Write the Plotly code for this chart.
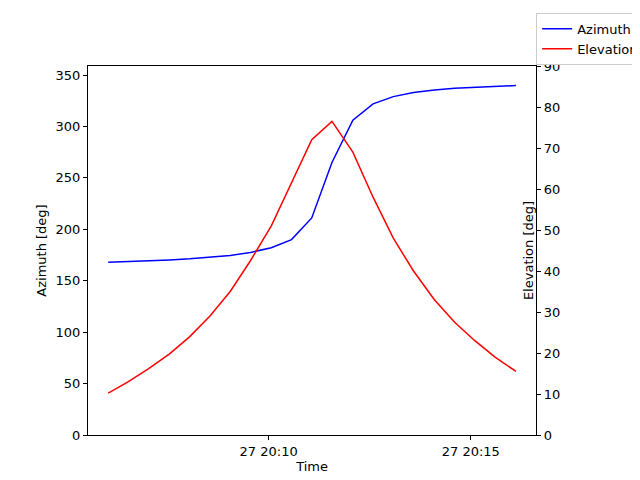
import plotly.graph_objects as go

times = ["2023-05-27 20:06:02", "2023-05-27 20:06:32", "2023-05-27 20:07:02", "2023-05-27 20:07:33",
         "2023-05-27 20:08:03", "2023-05-27 20:08:33", "2023-05-27 20:09:03", "2023-05-27 20:09:33",
         "2023-05-27 20:10:04", "2023-05-27 20:10:34", "2023-05-27 20:11:04", "2023-05-27 20:11:34",
         "2023-05-27 20:12:05", "2023-05-27 20:12:35", "2023-05-27 20:13:05", "2023-05-27 20:13:35",
         "2023-05-27 20:14:06", "2023-05-27 20:14:36", "2023-05-27 20:15:06", "2023-05-27 20:15:36",
         "2023-05-27 20:16:07"]
azimuth = [168, 168.5, 169.3, 170.2, 171.3, 172.7, 174.6, 177.5, 182, 190, 211,
           265, 306, 322, 329, 333, 335.5, 337, 338, 339, 339.7]
elevation = [10.2, 13, 16.2, 19.8, 24, 29, 35, 42.5, 51, 61.5, 72,
             76.5, 69, 58, 48, 40, 33, 27.5, 23, 19, 15.5]
xticks = ["2023-05-27 20:10:00", "2023-05-27 20:15:00"]
xticklabels = ["27 20:10", "27 20:15"]

fig = go.Figure()
fig.add_trace(go.Scatter(x=times, y=azimuth, name="Azimuth", mode="lines",
                         line=dict(color="blue", width=1.5)))
fig.add_trace(go.Scatter(x=times, y=elevation, name="Elevation", mode="lines", yaxis="y2",
                         line=dict(color="red", width=1.5)))

axis_style = dict(showgrid=False, zeroline=False, showline=True, linecolor="black", linewidth=1,
                  ticks="outside", ticklen=4, tickcolor="black", tickfont=dict(size=13),
                  automargin=False)
fig.update_layout(
    width=640, height=480, plot_bgcolor="white", paper_bgcolor="white",
    font=dict(family="DejaVu Sans", size=13, color="black"),
    margin=dict(l=80, r=64, t=58, b=53),
    xaxis=dict(axis_style, title=dict(text="Time", standoff=4, font=dict(size=13)), mirror=True,
               range=["2023-05-27 20:05:32", "2023-05-27 20:16:37"],
               tickvals=xticks, ticktext=xticklabels),
    yaxis=dict(axis_style, title=dict(text="Azimuth [deg]", standoff=6, font=dict(size=13)),
               range=[0, 358.75], tickvals=list(range(0, 351, 50))),
    yaxis2=dict(axis_style, title=dict(text="Elevation [deg]", standoff=6, font=dict(size=13)),
                overlaying="y", side="right", range=[0, 90], tickvals=list(range(0, 91, 10))),
    legend=dict(xref="container", yref="container", x=0.994, y=0.99, xanchor="right",
                yanchor="top", bordercolor="#cccccc", borderwidth=1, bgcolor="white",
                font=dict(size=13), tracegroupgap=0),
)
fig.write_html("out.html")
